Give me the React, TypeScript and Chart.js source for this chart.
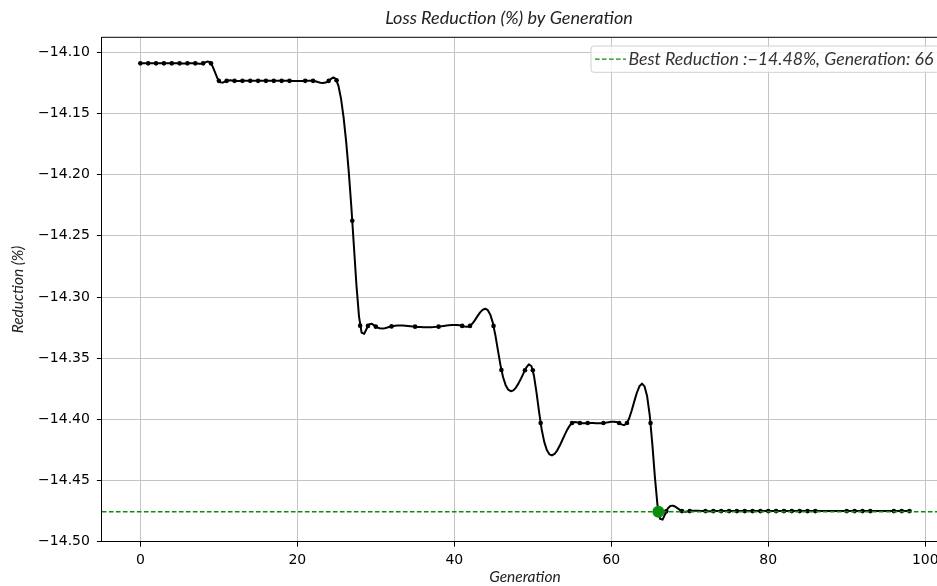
import React, { useEffect, useRef } from "react";
import { Chart, registerables } from "chart.js";

Chart.register(...registerables);

// ---- data ----
const generations = [
  0, 1, 2, 3, 4, 5, 6, 7, 8, 9,
  10, 11, 12, 13, 14, 15, 16, 17, 18, 19,
  21, 22, 24, 25,
  27, 28, 29, 30, 32, 35, 38, 41, 42, 45,
  46, 49, 50,
  51, 55, 56, 57, 59, 61, 62, 65,
  66, 67,
  69, 70, 72, 73, 74, 75, 76, 77, 78, 79, 80, 81, 82, 83, 84, 85, 86,
  90, 91, 92, 93, 96, 97, 98,
];
const reductions = [
  -14.109, -14.109, -14.109, -14.109, -14.109, -14.109, -14.109, -14.109, -14.109, -14.109,
  -14.1233, -14.1233, -14.1233, -14.1233, -14.1233, -14.1233, -14.1233, -14.1233, -14.1233, -14.1233,
  -14.1233, -14.1233, -14.1233, -14.1228,
  -14.2376, -14.3234, -14.3236, -14.3242, -14.324, -14.3242, -14.3242, -14.3236, -14.3236, -14.3236,
  -14.3596, -14.3598, -14.3598,
  -14.403, -14.403, -14.403, -14.403, -14.403, -14.403, -14.403, -14.403,
  -14.4755, -14.4752,
  -14.475, -14.475, -14.475, -14.475, -14.475, -14.475, -14.475, -14.475, -14.475, -14.475,
  -14.475, -14.475, -14.475, -14.475, -14.475, -14.475, -14.475,
  -14.475, -14.475, -14.475, -14.475, -14.475, -14.475, -14.475,
];
const bestGeneration = 66;
const bestReduction = -14.4755;
const xTicks = [0, 20, 40, 60, 80, 100];
const yTicks = [-14.1, -14.15, -14.2, -14.25, -14.3, -14.35, -14.4, -14.45, -14.5];
const titleText = "Loss Reduction (%) by Generation";
const legendText = "Best Reduction :\u221214.48%, Generation: 66";
const xTitleText = "Generation";
const yTitleText = "Reduction (%)";

const GREEN = "#0c8c0c";
const LABEL_FONT = "Lato";

// not-a-knot cubic spline second derivatives
function splineM(xs: number[], ys: number[]): number[] {
  const n = xs.length;
  const h: number[] = [];
  for (let i = 0; i < n - 1; i++) h.push(xs[i + 1] - xs[i]);
  const A: number[][] = [];
  const b: number[] = [];
  for (let i = 0; i < n; i++) {
    A.push(new Array(n).fill(0));
    b.push(0);
  }
  A[0][0] = -h[1];
  A[0][1] = h[0] + h[1];
  A[0][2] = -h[0];
  for (let i = 1; i < n - 1; i++) {
    A[i][i - 1] = h[i - 1];
    A[i][i] = 2 * (h[i - 1] + h[i]);
    A[i][i + 1] = h[i];
    b[i] = 6 * ((ys[i + 1] - ys[i]) / h[i] - (ys[i] - ys[i - 1]) / h[i - 1]);
  }
  A[n - 1][n - 3] = -h[n - 2];
  A[n - 1][n - 2] = h[n - 2] + h[n - 3];
  A[n - 1][n - 1] = -h[n - 3];
  for (let c = 0; c < n; c++) {
    let p = c;
    for (let r = c + 1; r < n; r++) if (Math.abs(A[r][c]) > Math.abs(A[p][c])) p = r;
    [A[c], A[p]] = [A[p], A[c]];
    [b[c], b[p]] = [b[p], b[c]];
    for (let r = c + 1; r < n; r++) {
      const f = A[r][c] / A[c][c];
      if (f === 0) continue;
      for (let k = c; k < n; k++) A[r][k] -= f * A[c][k];
      b[r] -= f * b[c];
    }
  }
  const M = new Array(n).fill(0);
  for (let r = n - 1; r >= 0; r--) {
    let s = b[r];
    for (let k = r + 1; k < n; k++) s -= A[r][k] * M[k];
    M[r] = s / A[r][r];
  }
  return M;
}

function splineEval(xs: number[], ys: number[], M: number[], x: number): number {
  let i = 0;
  while (i < xs.length - 2 && x > xs[i + 1]) i++;
  const h = xs[i + 1] - xs[i];
  const a = xs[i + 1] - x;
  const c = x - xs[i];
  return (
    (M[i] * a * a * a) / (6 * h) +
    (M[i + 1] * c * c * c) / (6 * h) +
    (ys[i] / h - (M[i] * h) / 6) * a +
    (ys[i + 1] / h - (M[i + 1] * h) / 6) * c
  );
}

const decorPlugin = {
  id: "decor",
  beforeDatasetsDraw(chart: any) {
    const { ctx, chartArea: ca, scales } = chart;
    const xs = generations;
    const ys = reductions;
    const M = splineM(xs, ys);
    const N = 300;
    ctx.save();
    ctx.beginPath();
    ctx.rect(ca.left, ca.top, ca.right - ca.left, ca.bottom - ca.top);
    ctx.clip();
    ctx.beginPath();
    for (let k = 0; k < N; k++) {
      const x = xs[0] + ((xs[xs.length - 1] - xs[0]) * k) / (N - 1);
      const y = splineEval(xs, ys, M, x);
      const px = scales.x.getPixelForValue(x);
      const py = scales.y.getPixelForValue(y);
      if (k === 0) ctx.moveTo(px, py);
      else ctx.lineTo(px, py);
    }
    ctx.strokeStyle = "#000";
    ctx.lineWidth = 2;
    ctx.lineJoin = "round";
    ctx.lineCap = "round";
    ctx.stroke();
    ctx.restore();
  },
  afterDatasetDraw(chart: any, args: any) {
    if (args.index !== 0) return;
    const { ctx, chartArea: ca, scales } = chart;
    const py = scales.y.getPixelForValue(bestReduction);
    ctx.save();
    ctx.beginPath();
    ctx.setLineDash([4.6, 2.4]);
    ctx.moveTo(ca.left, py);
    ctx.lineTo(ca.right, py);
    ctx.strokeStyle = GREEN;
    ctx.lineWidth = 1.3;
    ctx.stroke();
    ctx.restore();
  },
  afterDraw(chart: any) {
    const { ctx, chartArea: ca } = chart;
    ctx.save();
    ctx.strokeStyle = "#000";
    ctx.lineWidth = 1;
    ctx.beginPath();
    ctx.moveTo(ca.left, ca.top);
    ctx.lineTo(ca.right, ca.top);
    ctx.lineTo(ca.right, ca.bottom);
    ctx.stroke();

    // title
    ctx.font = `italic 100px ${LABEL_FONT}`;
    const tw = ctx.measureText(titleText).width;
    const tSize = (100 * 248) / tw;
    ctx.font = `italic ${tSize}px ${LABEL_FONT}`;
    ctx.fillStyle = "#222";
    ctx.textAlign = "center";
    ctx.textBaseline = "middle";
    ctx.fillText(titleText, 509, 18);

    // legend
    ctx.font = `italic 100px ${LABEL_FONT}`;
    const lw = ctx.measureText(legendText).width;
    const lSize = (100 * 305) / lw;
    ctx.font = `italic ${lSize}px ${LABEL_FONT}`;
    const boxRight = ca.right - 8.5;
    const boxTop = ca.top + 8.7;
    const boxH = 26.3;
    const textEnd = boxRight - 6;
    const textStart = textEnd - 305;
    const handleEnd = textStart - 2.5;
    const handleStart = handleEnd - 31;
    const boxLeft = handleStart - 4;
    const r = 3;
    ctx.beginPath();
    ctx.moveTo(boxLeft + r, boxTop);
    ctx.lineTo(boxRight - r, boxTop);
    ctx.arcTo(boxRight, boxTop, boxRight, boxTop + r, r);
    ctx.lineTo(boxRight, boxTop + boxH - r);
    ctx.arcTo(boxRight, boxTop + boxH, boxRight - r, boxTop + boxH, r);
    ctx.lineTo(boxLeft + r, boxTop + boxH);
    ctx.arcTo(boxLeft, boxTop + boxH, boxLeft, boxTop + boxH - r, r);
    ctx.lineTo(boxLeft, boxTop + r);
    ctx.arcTo(boxLeft, boxTop, boxLeft + r, boxTop, r);
    ctx.closePath();
    ctx.fillStyle = "rgba(255,255,255,0.8)";
    ctx.fill();
    ctx.strokeStyle = "#d0d0d0";
    ctx.lineWidth = 1;
    ctx.stroke();
    const ly = boxTop + boxH / 2;
    ctx.beginPath();
    ctx.setLineDash([4.6, 2.4]);
    ctx.moveTo(handleStart, ly);
    ctx.lineTo(handleEnd, ly);
    ctx.strokeStyle = GREEN;
    ctx.lineWidth = 1.3;
    ctx.stroke();
    ctx.setLineDash([]);
    ctx.fillStyle = "#333";
    ctx.textAlign = "left";
    ctx.textBaseline = "middle";
    ctx.fillText(legendText, textStart, ly);
    ctx.restore();
  },
};

export default function App() {
  const canvasRef = useRef<HTMLCanvasElement | null>(null);

  useEffect(() => {
    const canvas = canvasRef.current;
    if (!canvas) return;
    const tickFont = { family: "DejaVu Sans", size: 14 };
    const chart = new Chart(canvas, {
      type: "scatter",
      data: {
        datasets: [
          {
            label: "points",
            data: generations.map((g, i) => ({ x: g, y: reductions[i] })),
            showLine: false,
            pointRadius: 2.3,
            pointBackgroundColor: "#000",
            pointBorderWidth: 0,
            order: 1,
          },
          {
            label: "best",
            data: [{ x: bestGeneration, y: bestReduction }],
            showLine: false,
            pointRadius: 6,
            pointBackgroundColor: GREEN,
            pointBorderWidth: 0,
            order: 0,
          },
        ],
      },
      options: {
        responsive: false,
        animation: false,
        events: [],
        layout: { padding: { left: 0, right: 12, top: 37.3, bottom: 0 } },
        plugins: {
          legend: { display: false },
          tooltip: { enabled: false },
          title: { display: false },
        },
        scales: {
          x: {
            type: "linear",
            min: -4.9,
            max: 102.9,
            bounds: "data",
            afterBuildTicks: (s: any) => {
              s.ticks = xTicks.map((v) => ({ value: v }));
            },
            afterFit: (s: any) => {
              s.height = 44.3;
            },
            ticks: {
              font: tickFont,
              color: "#000",
              padding: 5,
              maxRotation: 0,
              autoSkip: false,
              callback: (v: any) => String(v),
            },
            grid: {
              color: "#c4c4c4",
              lineWidth: 1,
              tickColor: "#000",
              tickLength: 5,
              tickWidth: 1,
            },
            border: { display: true, color: "#000", width: 1 },
            title: {
              display: true,
              text: xTitleText,
              color: "#222",
              font: { family: LABEL_FONT, size: 15.5, style: "italic", lineHeight: 1 },
              padding: { top: 0, bottom: 1 },
            },
          },
          y: {
            type: "linear",
            min: -14.5,
            max: -14.0877,
            bounds: "data",
            afterBuildTicks: (s: any) => {
              s.ticks = yTicks.map((v) => ({ value: v }));
            },
            afterFit: (s: any) => {
              s.width = 101.9;
            },
            ticks: {
              font: tickFont,
              color: "#000",
              padding: 7,
              autoSkip: false,
              callback: (v: any) => "\u2212" + Math.abs(Number(v)).toFixed(2),
            },
            grid: {
              color: "#c4c4c4",
              lineWidth: 1,
              tickColor: "#000",
              tickLength: 5,
              tickWidth: 1,
            },
            border: { display: true, color: "#000", width: 1 },
            title: {
              display: true,
              text: yTitleText,
              color: "#222",
              font: { family: LABEL_FONT, size: 15.5, style: "italic", lineHeight: 1 },
              padding: { top: 10.5, bottom: 0 },
            },
          },
        },
      },
      plugins: [decorPlugin],
    } as any);
    return () => chart.destroy();
  }, []);

  return (
    <div
      style={{
        position: "absolute",
        left: 0,
        top: 0,
        width: 937,
        height: 586,
        overflow: "hidden",
        background: "#fff",
      }}
    >
      <canvas
        ref={canvasRef}
        width={960}
        height={586}
        style={{ display: "block", width: 960, height: 586 }}
      />
    </div>
  );
}
